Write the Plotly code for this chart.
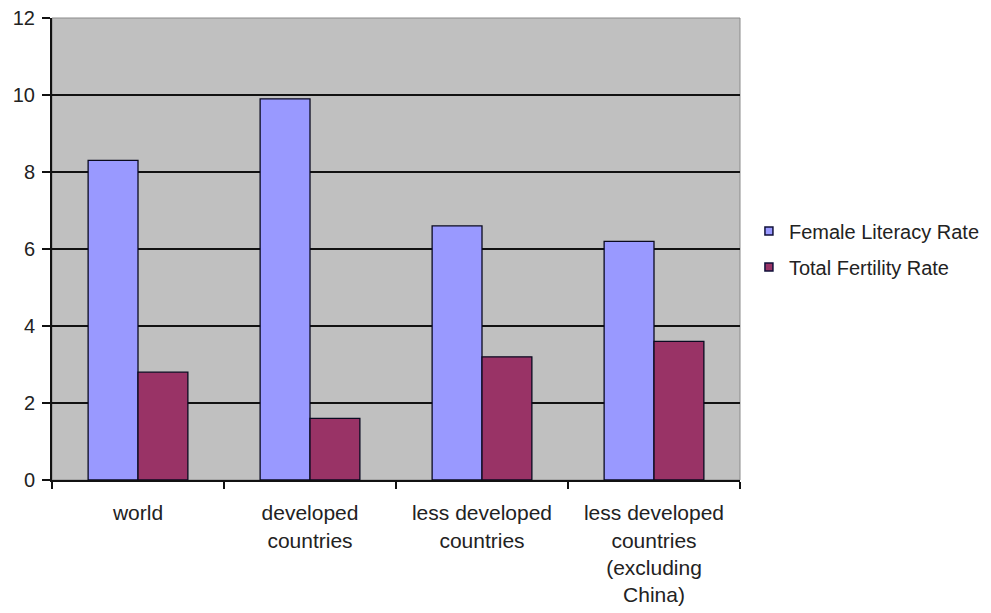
import plotly.graph_objects as go

# Regions shown along the x axis
regions = [
    "world",
    "developed<br>countries",
    "less developed<br>countries",
    "less developed<br>countries<br>(excluding<br>China)",
]

# Series values
female_literacy = [8.3, 9.9, 6.6, 6.2]
total_fertility = [2.8, 1.6, 3.2, 3.6]

series_names = ["Female Literacy Rate", "Total Fertility Rate"]
series_colors = ["#9999FF", "#993366"]

y_ticks = [0, 2, 4, 6, 8, 10, 12]

FAMILY = "Liberation Sans, Arial, sans-serif"
FONT = dict(family=FAMILY, size=20, color="#222222")

fig = go.Figure()

for name, values, color in zip(series_names, [female_literacy, total_fertility], series_colors):
    fig.add_trace(go.Bar(
        x=regions,
        y=values,
        name=name,
        marker=dict(color=color, line=dict(color="#0a0a20", width=1.3)),
        showlegend=False,
    ))

# Small square legend keys
for i, (name, color) in enumerate(zip(series_names, series_colors)):
    fig.add_trace(go.Scatter(
        x=[None], y=[None],
        mode="markers",
        name=name,
        legendgroup=f"g{i}",
        marker=dict(symbol="square", size=8, color=color,
                    line=dict(color="#10103a", width=1.5)),
    ))

fig.update_layout(
    width=991,
    height=613,
    margin=dict(l=52, r=251, t=18, b=133, autoexpand=False),
    paper_bgcolor="white",
    plot_bgcolor="#C0C0C0",
    font=FONT,
    barmode="group",
    bargap=0.42,
    bargroupgap=0,
    showlegend=True,
    legend=dict(
        x=1.013, y=0.50, xanchor="left", yanchor="middle",
        font=dict(family=FAMILY, size=20, color="#222222"),
        bgcolor="rgba(0,0,0,0)",
        tracegroupgap=7,
        itemwidth=30,
    ),
    shapes=[dict(type="rect", xref="paper", yref="paper", x0=0, y0=0, x1=1, y1=1,
                 line=dict(color="#8a8a8a", width=1), layer="below")],
)

fig.update_xaxes(
    type="category",
    showgrid=False,
    showline=True,
    linecolor="#111111",
    linewidth=2,
    ticks="outside",
    tickson="boundaries",
    ticklen=7,
    tickwidth=2,
    tickcolor="#111111",
    tickfont=dict(family=FAMILY, size=21, color="#222222"),
    ticklabelstandoff=13,
)

fig.update_yaxes(
    range=[0, 12],
    tickvals=y_ticks,
    showgrid=True,
    gridcolor="#111111",
    gridwidth=1.6,
    zeroline=False,
    showline=True,
    linecolor="#111111",
    linewidth=2,
    ticks="outside",
    ticklen=8,
    tickwidth=2,
    tickcolor="#111111",
    tickfont=FONT,
    ticklabelstandoff=3,
)

fig.write_html("out.html")
